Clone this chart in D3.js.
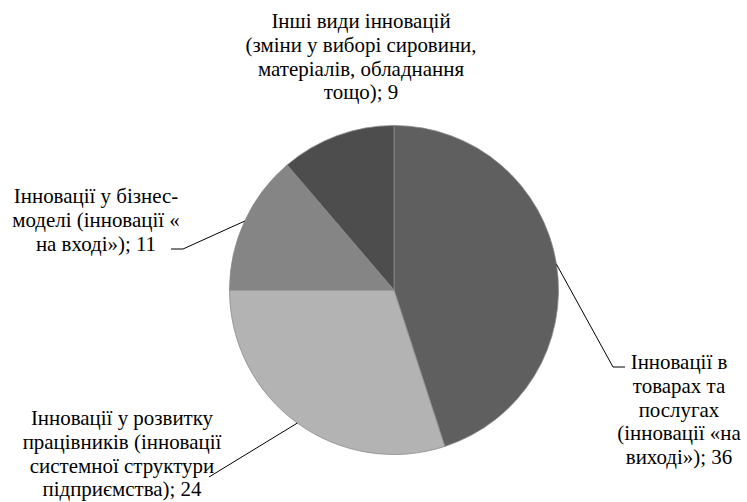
<!DOCTYPE html>
<html>
<head>
<meta charset="utf-8">
<script src="https://cdn.jsdelivr.net/npm/d3@7"></script>
<style>
  html, body { margin: 0; padding: 0; background: #fff; }
  svg { display: block; }
</style>
</head>
<body>
<svg id="chart" width="747" height="502"></svg>
<script>
// ---- data ----
const categories = [
  "Інновації в товарах та послугах (інновації «на виході»)",
  "Інновації у розвитку працівників (інновації системної структури підприємства)",
  "Інновації у бізнес-моделі (інновації « на вході»)",
  "Інші види інновацій (зміни у виборі сировини, матеріалів, обладнання тощо)"
];
const values = [36, 24, 11, 9];
const labelLines = [
  ["Інновації в", "товарах та", "послугах", "(інновації «на", "виході»); 36"],
  ["Інновації у розвитку", "працівників (інновації", "системної структури", "підприємства); 24"],
  ["Інновації у бізнес-", "моделі (інновації «", "на вході»); 11"],
  ["Інші види інновацій", "(зміни у виборі сировини,", "матеріалів, обладнання", "тощо); 9"]
];
const colors = ["#5f5f5f", "#b3b3b3", "#858585", "#4d4d4d"];

// ---- layout ----
const cx = 394, cy = 290, R = 164.5;
const FONT = "Liberation Serif";
const lineH = 23.8;
const labelPos = [
  { x: 679, y: 369, leader: [[613, 367], [625, 367]] },
  { x: 122, y: 425, leader: [[209, 477]] },
  { x: 96,  y: 203, leader: [[183, 249], [171, 249]] },
  { x: 361, y: 28,  leader: null }
];

const svg = d3.select("#chart");

// size the serif font so that line widths match the reference
const refWidths = [
  ["Інші види інновацій", 180],
  ["Інновації у розвитку", 181],
  ["Інновації у бізнес-", 170],
  ["матеріалів, обладнання", 200]
];
const probe = svg.append("text").attr("font-family", FONT).attr("font-size", 20);
let ratioSum = 0;
refWidths.forEach(([s, w]) => { probe.text(s); ratioSum += w / probe.node().getComputedTextLength(); });
probe.remove();
let fontSize = 20 * ratioSum / refWidths.length;
if (!isFinite(fontSize) || fontSize < 12 || fontSize > 26) fontSize = 20;

const g = svg.append("g").attr("transform", `translate(${cx},${cy})`);
const data = categories.map((c, i) => ({ name: c, value: values[i], i }));
const pie = d3.pie().sort(null).value(d => d.value).startAngle(0).endAngle(2 * Math.PI);
const arcs = pie(data);
const arc = d3.arc().innerRadius(0).outerRadius(R);
const edgeArc = d3.arc().innerRadius(R).outerRadius(R);

g.selectAll("path.slice")
  .data(arcs)
  .join("path")
  .attr("class", "slice")
  .attr("d", arc)
  .attr("fill", d => colors[d.data.i])
  .attr("stroke", "#8a8a8a")
  .attr("stroke-width", 0.8);

// leader lines
arcs.forEach(d => {
  const lp = labelPos[d.data.i];
  if (!lp.leader) return;
  const [sx, sy] = edgeArc.centroid(d);
  const pts = [[cx + sx, cy + sy], ...lp.leader];
  svg.append("path")
    .attr("d", d3.line()(pts))
    .attr("fill", "none")
    .attr("stroke", "#000")
    .attr("stroke-width", 1);
});

// labels
arcs.forEach(d => {
  const i = d.data.i;
  const lp = labelPos[i];
  labelLines[i].forEach((line, k) => {
    svg.append("text")
      .attr("x", lp.x)
      .attr("y", lp.y + k * lineH)
      .attr("text-anchor", "middle")
      .attr("font-family", FONT)
      .attr("font-size", fontSize.toFixed(2))
      .attr("fill", "#000")
      .text(line);
  });
});
</script>
</body>
</html>
